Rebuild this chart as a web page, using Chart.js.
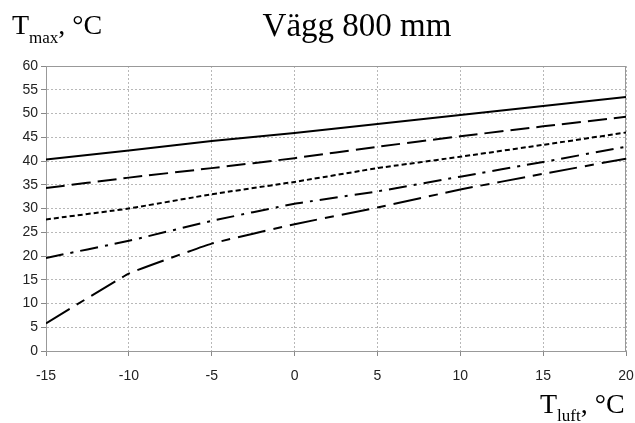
<!DOCTYPE html>
<html>
<head>
<meta charset="utf-8">
<script src="https://cdn.jsdelivr.net/npm/chart.js@4"></script>
<style>
    html, body { margin: 0; padding: 0; background: #fff; }
    #wrap { width: 635px; height: 423px; }
</style>
</head>
<body>
<div id="wrap"><canvas id="c" width="635" height="423"></canvas></div>
<script>
const tLuft = [-15, -10, -5, 0, 5, 10, 15, 20];
const lineSolid = [40.3, 42.2, 44.2, 45.9, 47.8, 49.7, 51.6, 53.5];
const lineLongDash = [34.3, 36.5, 38.5, 40.6, 43.0, 45.2, 47.3, 49.3];
const lineShortDash = [27.7, 30.0, 33.0, 35.6, 38.5, 40.9, 43.4, 46.0];
const lineDashDot = [19.6, 23.2, 27.4, 31.0, 33.6, 36.7, 39.8, 43.0];
const lineLongShort = [5.8, 16.3, 22.6, 26.7, 30.2, 34.0, 37.3, 40.5];

const xTicks = [-15, -10, -5, 0, 5, 10, 15, 20];
const yTicks = [0, 5, 10, 15, 20, 25, 30, 35, 40, 45, 50, 55, 60];

const serif = "'Liberation Serif', 'Times New Roman', serif";
const sans = "'Liberation Sans', Arial, sans-serif";

const pts = arr => arr.map((v, i) => ({ x: tLuft[i], y: v }));

const ds = (data, dash) => ({
    data: pts(data),
    borderColor: "#000",
    borderWidth: 2,
    borderDash: dash,
    pointRadius: 0,
    tension: 0.1,
    fill: false
});

// axis titles + frame
const decor = {
    id: "decor",
    beforeDatasetsDraw(chart) {
        const { ctx, chartArea: a } = chart;
        ctx.save();
        ctx.strokeStyle = "#999";
        ctx.lineWidth = 1;
        ctx.strokeRect(a.left + 0.5, a.top + 0.5, a.right - a.left - 1, a.bottom - a.top);
        ctx.restore();
    },
    afterDraw(chart) {
        const ctx = chart.ctx;
        ctx.save();
        ctx.fillStyle = "#000";
        ctx.textBaseline = "alphabetic";

        ctx.textAlign = "center";
        ctx.font = "33px " + serif;
        ctx.fillText("Vägg 800 mm", 357, 36);

        ctx.textAlign = "left";
        let x = 12;
        ctx.font = "28px " + serif;
        ctx.fillText("T", x, 34);
        x += ctx.measureText("T").width;
        ctx.font = "17px " + serif;
        ctx.fillText("max", x, 43);
        x += ctx.measureText("max").width;
        ctx.font = "28px " + serif;
        ctx.fillText(", °C", x, 34);

        x = 540;
        ctx.fillText("T", x, 413);
        x += ctx.measureText("T").width;
        ctx.font = "17px " + serif;
        ctx.fillText("luft", x, 421);
        x += ctx.measureText("luft").width;
        ctx.font = "28px " + serif;
        ctx.fillText(", °C", x, 413);
        ctx.restore();
    }
};

new Chart(document.getElementById("c"), {
    type: "line",
    data: {
        datasets: [
            ds(lineSolid, []),
            ds(lineLongDash, [19, 7]),
            ds(lineShortDash, [5, 3]),
            ds(lineDashDot, [18, 7, 3, 7]),
            ds(lineLongShort, [28, 8, 9, 8])
        ]
    },
    options: {
        responsive: false,
        animation: false,
        layout: { padding: { top: 66, right: 9, left: 0, bottom: 0 } },
        plugins: { legend: { display: false }, tooltip: { enabled: false } },
        scales: {
            x: {
                type: "linear",
                min: -15,
                max: 20,
                afterFit: s => { s.height = 72; s.paddingLeft = 0; s.paddingRight = 0; },
                afterBuildTicks: s => { s.ticks = xTicks.map(v => ({ value: v })); },
                grid: { color: "#b8b8b8", tickColor: "#888", tickBorderDash: [], tickLength: 5 },
                border: { color: "#999", width: 1, dash: [2, 2] },
                ticks: { color: "#222", font: { family: sans, size: 14 }, padding: 12, maxRotation: 0 }
            },
            y: {
                min: 0,
                max: 60,
                afterFit: s => { s.width = 46; s.paddingTop = 0; s.paddingBottom = 0; },
                afterBuildTicks: s => { s.ticks = yTicks.map(v => ({ value: v })); },
                grid: { color: "#b8b8b8", tickColor: "#888", tickBorderDash: [], tickLength: 5 },
                border: { color: "#999", width: 1, dash: [2, 2] },
                ticks: { color: "#222", font: { family: sans, size: 14 }, padding: 3 }
            }
        }
    },
    plugins: [decor]
});
</script>
</body>
</html>
